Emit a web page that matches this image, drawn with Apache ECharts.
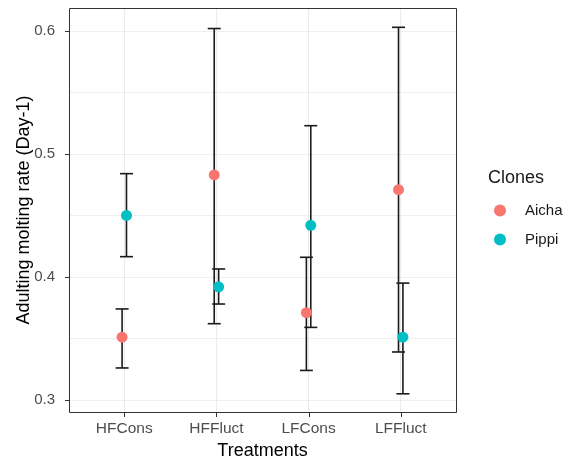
<!DOCTYPE html>
<html>
<head>
<meta charset="utf-8">
<script src="https://cdn.jsdelivr.net/npm/echarts@6/dist/echarts.min.js"></script>
<style>
html,body{margin:0;padding:0;background:#fff;}
#chart{width:566px;height:462px;}
</style>
</head>
<body>
<div id="chart"></div>
<script>
const categories = ['HFCons', 'HFFluct', 'LFCons', 'LFFluct'];
const cloneNames = ['Aicha', 'Pippi'];
const aichaMean = [0.351, 0.483, 0.371, 0.471];
const aichaLow  = [0.326, 0.362, 0.324, 0.339];
const aichaHigh = [0.374, 0.602, 0.416, 0.603];
const pippiMean = [0.450, 0.392, 0.442, 0.351];
const pippiLow  = [0.4165, 0.378, 0.359, 0.305];
const pippiHigh = [0.484, 0.4065, 0.523, 0.395];
const yTicks = [0.3, 0.4, 0.5, 0.6];
const yMinorTicks = [0.35, 0.45, 0.55];

const FONT = 'Liberation Sans, Arial, sans-serif';
const colors = ['#F8766D', '#00BFC4'];
const dodge = [-2.2, 2.2];
const catIdx = categories.map((c, i) => i);
const X_MIN = -0.6, X_MAX = 3.6, Y_MIN = 0.2902, Y_MAX = 0.6187;

function errData(low, high) { return catIdx.map(i => [i, low[i], high[i]]); }
function ptData(mean) { return catIdx.map(i => [i, mean[i]]); }

function errRender(off) {
  return function (params, api) {
    const x = api.value(0);
    const pLo = api.coord([x, api.value(1)]);
    const pHi = api.coord([x, api.value(2)]);
    const cx = pLo[0] + off;
    const hw = 6.5;
    const st = { stroke: '#1a1a1a', lineWidth: 1.6 };
    return {
      type: 'group',
      children: [
        { type: 'line', shape: { x1: cx, y1: pLo[1], x2: cx, y2: pHi[1] }, style: st },
        { type: 'line', shape: { x1: cx - hw, y1: pLo[1], x2: cx + hw, y2: pLo[1] }, style: st },
        { type: 'line', shape: { x1: cx - hw, y1: pHi[1], x2: cx + hw, y2: pHi[1] }, style: st }
      ]
    };
  };
}

const chart = echarts.init(document.getElementById('chart'), null, { renderer: 'canvas' });
const option = {
  animation: false,
  backgroundColor: '#fff',
  textStyle: { fontFamily: FONT },
  title: {
    text: 'Clones', left: 483, top: 164,
    textStyle: { fontFamily: FONT, fontSize: 18, fontWeight: 'normal', color: '#1a1a1a' }
  },
  legend: {
    data: cloneNames,
    orient: 'vertical', left: 489, top: 198,
    itemWidth: 12, itemHeight: 12, itemGap: 14, icon: 'circle',
    textStyle: { fontFamily: FONT, fontSize: 15, color: '#1a1a1a', padding: [0, 0, 0, 14] }
  },
  grid: {
    left: 69, top: 8, right: 110, bottom: 50,
    outerBoundsMode: 'none', containLabel: false, show: false
  },
  xAxis: {
    type: 'value', min: X_MIN, max: X_MAX,
    name: 'Treatments', nameLocation: 'middle', nameGap: 30,
    nameTextStyle: { fontFamily: FONT, fontSize: 18, color: '#000' },
    axisLine: { show: false, onZero: false },
    axisTick: { show: false },
    axisLabel: {
      customValues: catIdx, margin: 9, fontFamily: FONT, fontSize: 15.5, color: '#4D4D4D',
      formatter: v => categories[Math.round(v)] || ''
    },
    splitLine: { show: true, lineStyle: { color: '#EBEBEB', width: 1.1 } }
  },
  yAxis: [{
    type: 'value', min: Y_MIN, max: Y_MAX,
    name: 'Adulting molting rate (Day-1)', nameLocation: 'middle', nameGap: 36, nameMoveOverlap: false,
    nameTextStyle: { fontFamily: FONT, fontSize: 18, color: '#000' },
    axisLine: { show: false, onZero: false },
    axisTick: { show: false },
    axisLabel: {
      customValues: yTicks, margin: 14, fontFamily: FONT, fontSize: 15, color: '#4D4D4D',
      formatter: v => v.toFixed(1)
    },
    splitLine: { show: true, lineStyle: { color: '#EBEBEB', width: 1.1 } }
  }, {
    type: 'value', min: Y_MIN, max: Y_MAX, position: 'left',
    axisLine: { show: false, onZero: false }, axisTick: { show: false },
    axisLabel: { show: false, customValues: yMinorTicks },
    splitLine: { show: true, lineStyle: { color: '#F2F2F2', width: 0.6 } }
  }],
  series: [
    { type: 'custom', name: 'errA', renderItem: errRender(dodge[0]), data: errData(aichaLow, aichaHigh), encode: { x: 0, y: [1, 2] }, z: 2, silent: true },
    { type: 'custom', name: 'errP', renderItem: errRender(dodge[1]), data: errData(pippiLow, pippiHigh), encode: { x: 0, y: [1, 2] }, z: 2, silent: true },
    { type: 'scatter', name: cloneNames[0], data: ptData(aichaMean), symbol: 'circle', symbolSize: 11, symbolOffset: [dodge[0], 0], itemStyle: { color: colors[0], opacity: 1 }, z: 3 },
    { type: 'scatter', name: cloneNames[1], data: ptData(pippiMean), symbol: 'circle', symbolSize: 11, symbolOffset: [dodge[1], 0], itemStyle: { color: colors[1], opacity: 1 }, z: 3 }
  ]
};
chart.setOption(option);

// Panel border and axis ticks, positioned through the axes' own scales
const toPx = (x, y) => chart.convertToPixel({ gridIndex: 0 }, [x, y]);
const tl = toPx(X_MIN, Y_MAX), br = toPx(X_MAX, Y_MIN);
const els = [{
  type: 'rect', z: 100, silent: true,
  shape: { x: Math.round(tl[0]) + 0.5, y: Math.round(tl[1]) + 0.5, width: Math.round(br[0] - tl[0]), height: Math.round(br[1] - tl[1]) },
  style: { fill: null, stroke: '#333333', lineWidth: 1 }
}];
catIdx.forEach(i => {
  const p = toPx(i, Y_MIN);
  els.push({ type: 'rect', z: 100, silent: true,
    shape: { x: Math.round(p[0]), y: Math.round(p[1]) + 1, width: 1, height: 4 },
    style: { fill: '#333333' } });
});
yTicks.forEach(v => {
  const p = toPx(X_MIN, v);
  els.push({ type: 'rect', z: 100, silent: true,
    shape: { x: Math.round(p[0]) - 4, y: Math.round(p[1]), width: 4, height: 1 },
    style: { fill: '#333333' } });
});
chart.setOption({ graphic: { elements: els } });
</script>
</body>
</html>
